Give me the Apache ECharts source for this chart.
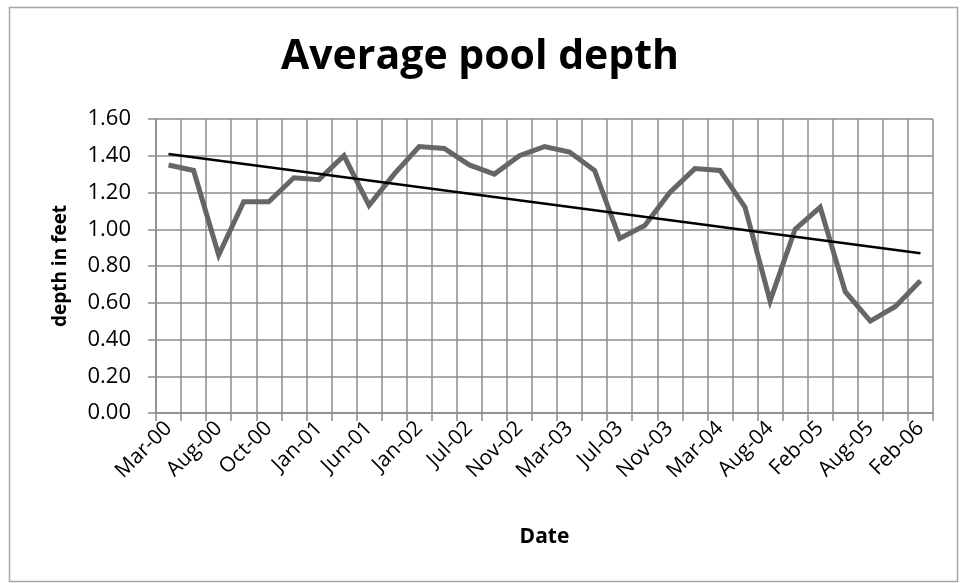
<!DOCTYPE html>
<html>
<head>
<meta charset="utf-8">
<script src="https://cdn.jsdelivr.net/npm/echarts@6/dist/echarts.min.js"></script>
<style>
html,body{margin:0;padding:0;background:#fff;}
#chart{width:960px;height:583px;}
</style>
</head>
<body>
<div id="chart"></div>
<script>
var titleText = 'Average pool depth';
var xAxisName = 'Date';
var yAxisName = 'depth in feet';
var categories = ['Mar-00','May-00','Aug-00','Sep-00','Oct-00','Nov-00','Jan-01','Mar-01','Jun-01','Sep-01',
  'Jan-02','Apr-02','Jul-02','Sep-02','Nov-02','Jan-03','Mar-03','May-03','Jul-03','Sep-03',
  'Nov-03','Jan-04','Mar-04','Jun-04','Aug-04','Nov-04','Feb-05','May-05','Aug-05','Nov-05','Feb-06'];
var depthValues = [1.35,1.32,0.86,1.15,1.15,1.28,1.27,1.40,1.13,1.30,
  1.45,1.44,1.35,1.30,1.40,1.45,1.42,1.32,0.95,1.02,
  1.20,1.33,1.32,1.12,0.61,1.00,1.12,0.66,0.50,0.58,0.72];
var trendEnds = [1.41, 0.87];
var yTicks = [0, 0.2, 0.4, 0.6, 0.8, 1.0, 1.2, 1.4, 1.6];

var FONT = '"Open Sans", Lato, sans-serif';
var GRID = '#8c8c8c';
var chart = echarts.init(document.getElementById('chart'), null, {renderer:'canvas'});
chart.setOption({
  backgroundColor:'#fff',
  animation:false,
  title:{text:titleText,left:'center',top:32,
    textStyle:{fontFamily:FONT,fontSize:41,fontWeight:'bold',color:'#000'}},
  graphic:[{type:'rect',shape:{x:9.5,y:7.5,width:948,height:574},
    style:{fill:null,stroke:'#a6a6a6',lineWidth:1.5},silent:true}],
  grid:{left:156,right:27,top:119,bottom:170,containLabel:false},
  xAxis:{type:'category',data:categories,boundaryGap:true,
    name:xAxisName,nameLocation:'middle',nameGap:114,
    nameTextStyle:{fontFamily:FONT,fontSize:21,fontWeight:'bold',color:'#000'},
    axisLine:{show:true,lineStyle:{color:GRID,width:1.5}},
    axisTick:{show:true,interval:0,length:8,lineStyle:{color:GRID,width:1.5}},
    axisLabel:{interval:1,rotate:45,fontFamily:FONT,fontSize:21,color:'#000',margin:12},
    splitLine:{show:true,interval:0,lineStyle:{color:GRID,width:1.5}}},
  yAxis:{type:'value',min:yTicks[0],max:yTicks[yTicks.length-1],interval:0.2,
    name:yAxisName,nameLocation:'middle',nameGap:86,nameRotate:90,
    nameTextStyle:{fontFamily:FONT,fontSize:19,fontWeight:'bold',color:'#000'},
    axisLine:{show:true,lineStyle:{color:GRID,width:1.5}},
    axisTick:{show:true,length:8,lineStyle:{color:GRID,width:1.5}},
    axisLabel:{fontFamily:FONT,fontSize:22,color:'#000',margin:25,
      formatter:function(v){return v.toFixed(2);}},
    splitLine:{show:true,lineStyle:{color:GRID,width:1.5}}},
  series:[
    {type:'line',data:depthValues,symbol:'none',
      lineStyle:{color:'#666666',width:5,join:'miter'},z:3},
    {type:'line',data:[[categories[0],trendEnds[0]],[categories[categories.length-1],trendEnds[1]]],
      symbol:'none',lineStyle:{color:'#000',width:2.5},z:4}
  ]
});
</script>
</body>
</html>
